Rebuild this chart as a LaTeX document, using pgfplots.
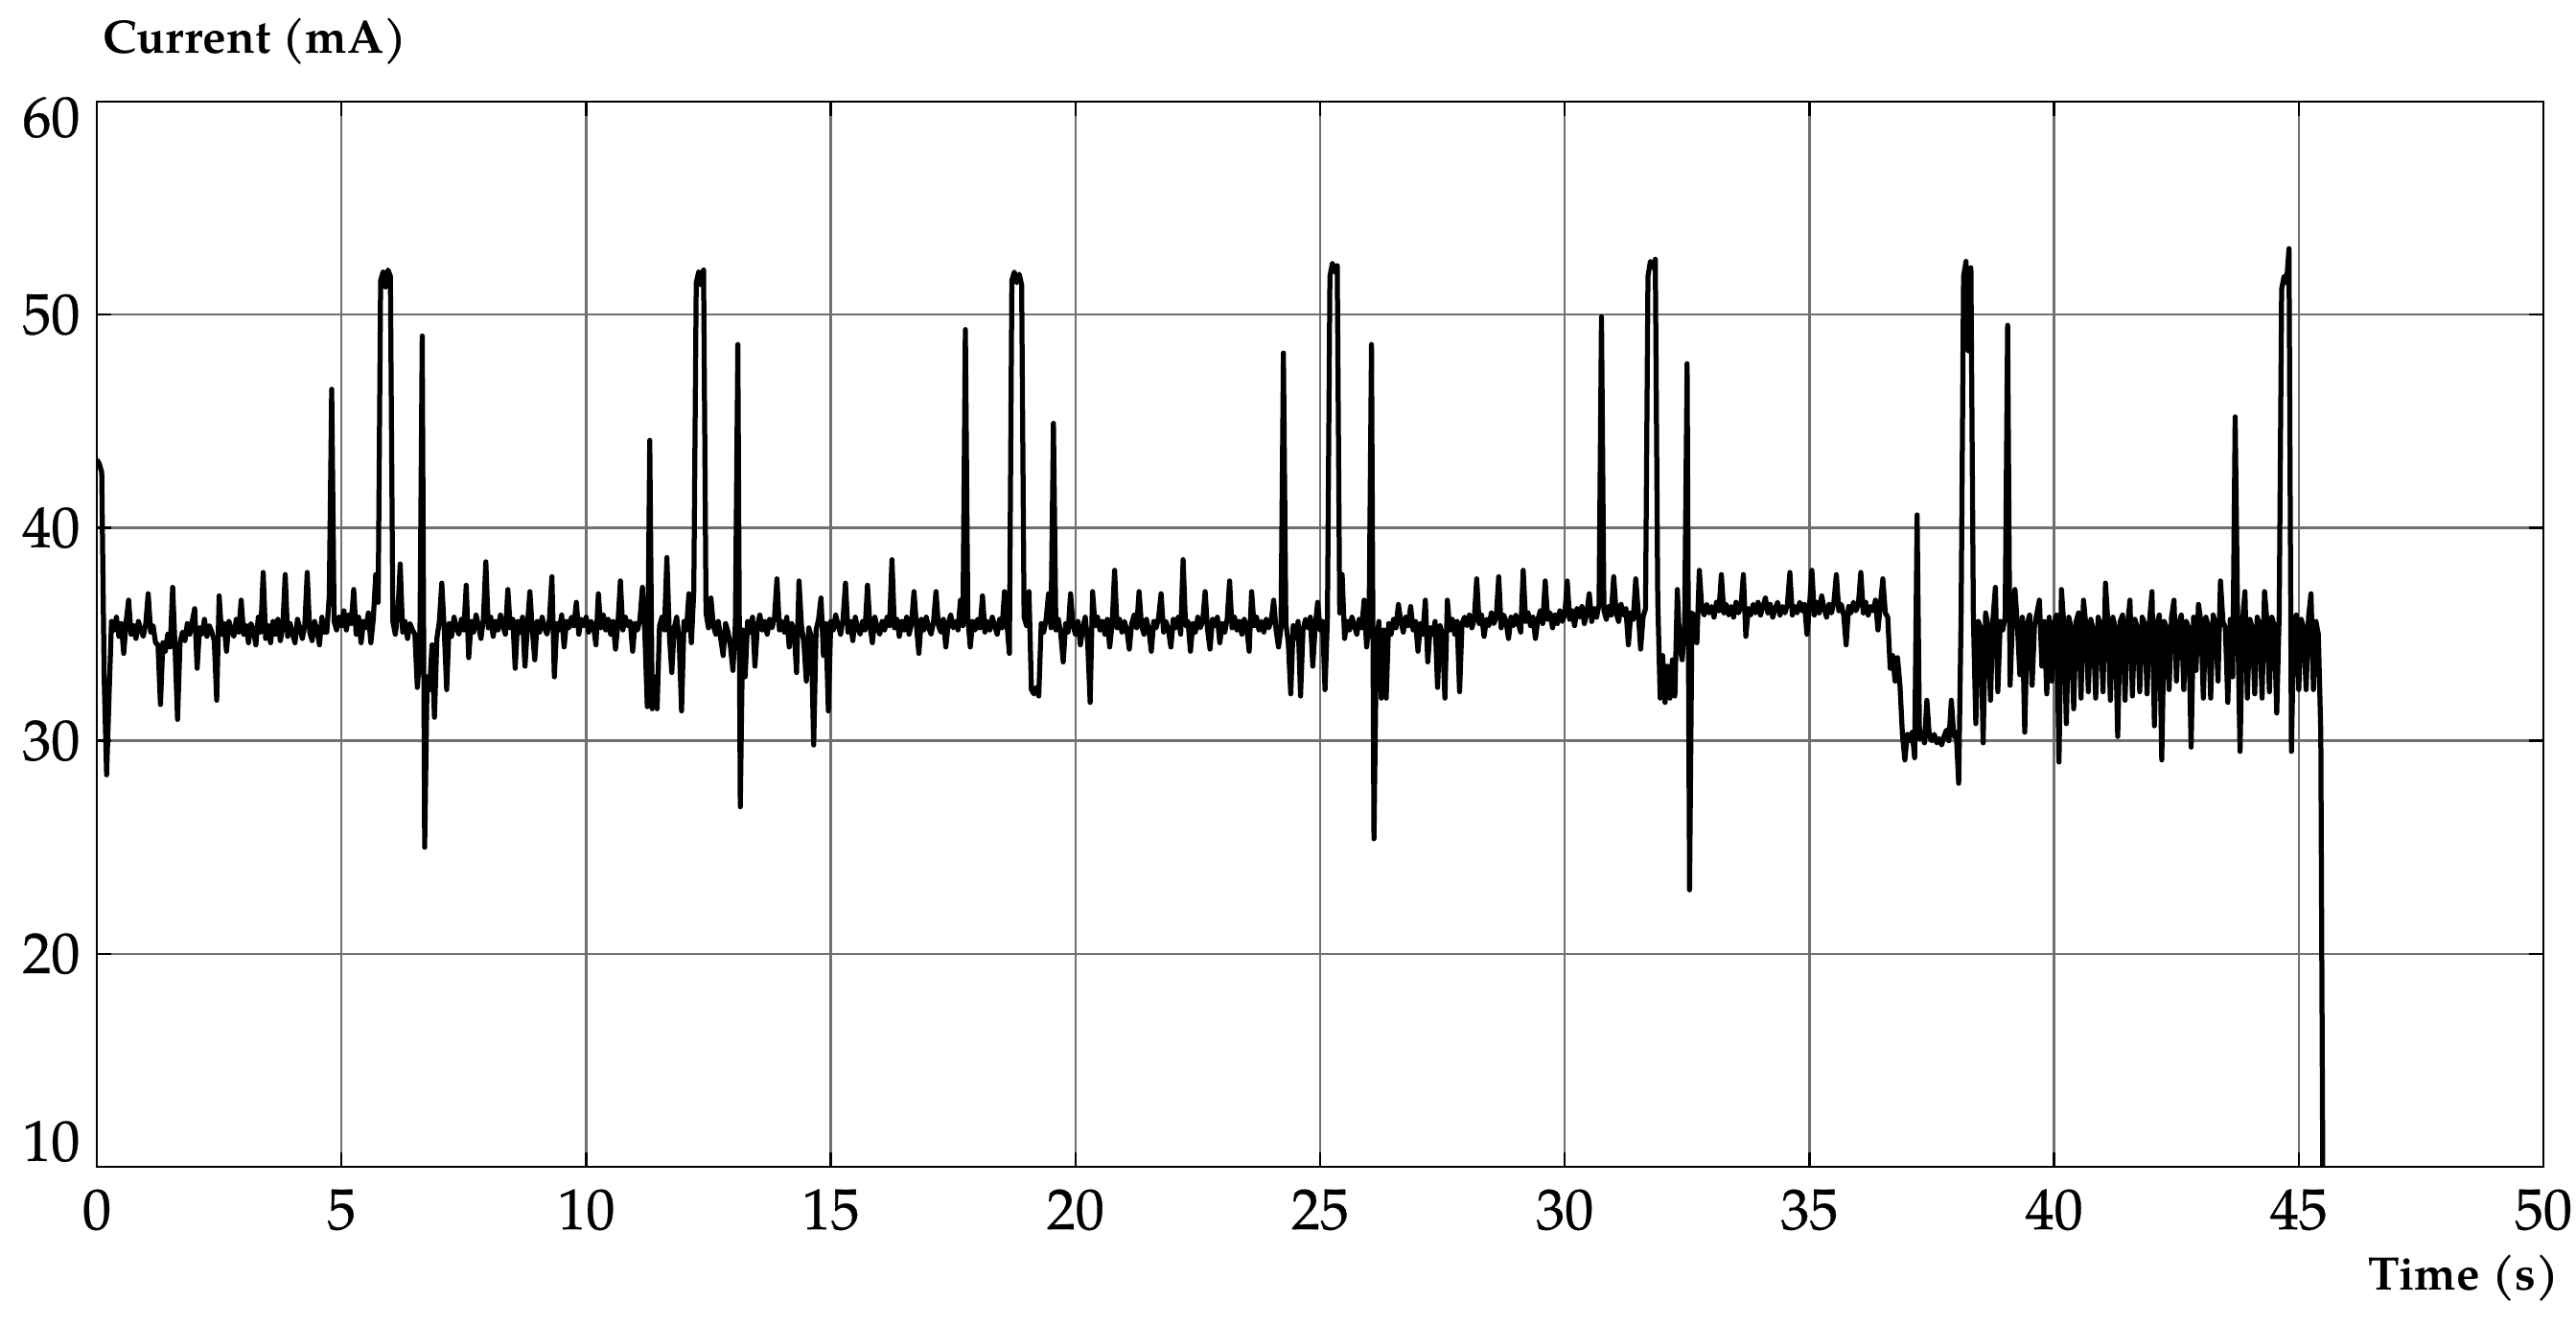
\documentclass[border=0pt]{standalone}
\usepackage{pgfplots}
\pgfplotsset{compat=1.18}
\usepackage{fontspec}
\setmainfont{TeX Gyre Pagella}
\newfontface\tickfont[FakeBold=0.5]{TeX Gyre Pagella}
\definecolor{gridc}{HTML}{707070}
\begin{document}
\begin{tikzpicture}
\path[use as bounding box] (0,0) rectangle (537.4pt,276.2pt);
\begin{axis}[
  at={(20.2pt,32.8pt)}, anchor=south west,
  scale only axis, width=510.4pt, height=222.2pt,
  xmin=0, xmax=50, ymin=10, ymax=60,
  xtick={0,5,...,50}, ytick={10,20,...,60},
  grid=major,
  major grid style={draw=gridc, line width=0.5pt},
  axis line style={black, line width=0.5pt},
  tick style={black, line width=0.5pt},
  tick align=inside, major tick length=3pt,
  /pgf/number format/assume math mode=true,
  ticklabel style={font=\tickfont\fontsize{12}{14}\selectfont},
  xticklabel style={anchor=base, yshift=-13pt},
  yticklabel={\ifcase\ticknum\raisebox{5.3pt}[\height][\depth]{\axisdefaultticklabel}\or\axisdefaultticklabel\or\axisdefaultticklabel\or\axisdefaultticklabel\or\axisdefaultticklabel\or\raisebox{-3.3pt}[\height][\depth]{\axisdefaultticklabel}\fi},
  every axis y label/.style={at={(rel axis cs:0,1)}, anchor=base west, inner sep=0pt, xshift=1pt, yshift=10.2pt, font=\bfseries\fontsize{9.8}{12}\selectfont},
  every axis x label/.style={at={(rel axis cs:1,0)}, anchor=base east, inner sep=0pt, xshift=3.4pt, yshift=-25.6pt, font=\bfseries\fontsize{9.8}{12}\selectfont},
  ylabel={Current (mA)},
  xlabel={Time (s)},
]
\addplot[black, line width=1.05pt, line join=round, no markers] table[x expr=\coordindex/20, y index=0, header=false, row sep=\\] {
43.2\\43.0\\42.6\\33.0\\28.4\\32.1\\35.6\\35.2\\35.8\\34.9\\35.5\\34.1\\35.6\\36.6\\35.0\\35.4\\34.8\\35.6\\35.2\\34.9\\
35.5\\36.9\\35.1\\35.4\\34.6\\34.5\\31.7\\34.6\\34.2\\35.0\\34.4\\37.2\\34.3\\31.0\\34.6\\35.1\\34.7\\35.5\\35.0\\35.6\\
36.2\\33.4\\35.3\\35.0\\35.7\\34.9\\35.4\\35.1\\34.7\\31.9\\36.8\\35.0\\35.5\\34.2\\35.6\\35.2\\34.9\\35.7\\35.1\\36.6\\
35.0\\35.4\\34.6\\35.5\\35.2\\34.5\\35.8\\35.1\\37.9\\34.8\\35.4\\34.6\\35.6\\35.0\\35.7\\34.7\\35.3\\37.8\\34.9\\35.5\\
35.0\\34.6\\35.7\\35.3\\34.8\\35.4\\37.9\\35.1\\34.7\\35.6\\35.2\\34.5\\35.8\\35.1\\35.1\\36.8\\46.5\\35.6\\35.2\\35.8\\
35.4\\36.1\\35.2\\35.9\\35.5\\37.1\\35.0\\35.8\\34.6\\35.6\\35.3\\36.0\\34.6\\35.7\\37.8\\36.5\\51.6\\52.0\\51.3\\52.1\\
51.8\\35.6\\35.0\\35.9\\38.3\\35.1\\35.6\\34.8\\35.5\\35.2\\35.0\\32.5\\34.0\\49.0\\25.0\\33.0\\32.4\\34.5\\31.1\\34.8\\
35.6\\37.4\\35.2\\32.4\\35.5\\34.9\\35.8\\35.3\\35.0\\35.7\\35.2\\37.3\\33.9\\35.6\\35.1\\35.9\\35.4\\34.8\\35.7\\38.4\\
35.3\\35.8\\34.9\\35.6\\35.2\\35.9\\35.4\\35.0\\37.1\\35.3\\35.7\\33.4\\35.6\\35.1\\35.8\\33.5\\35.4\\37.0\\35.2\\33.8\\
35.6\\35.1\\35.8\\35.3\\35.0\\35.7\\37.7\\33.0\\35.5\\35.2\\35.9\\34.4\\35.6\\35.3\\35.8\\35.4\\36.5\\35.0\\35.7\\35.4\\
35.8\\35.1\\35.6\\35.4\\34.5\\36.9\\35.3\\35.9\\35.2\\35.7\\35.0\\35.6\\34.3\\35.5\\37.5\\35.2\\35.8\\35.4\\35.6\\34.2\\
35.5\\35.2\\35.7\\37.2\\35.0\\31.6\\44.1\\31.5\\33.0\\31.5\\35.4\\35.8\\35.2\\38.6\\35.0\\33.2\\35.3\\35.8\\34.8\\31.4\\
35.6\\35.2\\36.9\\34.6\\37.0\\51.5\\52.0\\51.4\\52.1\\36.0\\35.3\\36.7\\35.4\\35.0\\35.6\\34.8\\34.0\\35.5\\35.1\\34.4\\
33.3\\35.5\\48.6\\26.9\\35.2\\33.0\\35.6\\35.1\\35.8\\33.5\\35.4\\35.9\\35.2\\35.6\\35.0\\35.7\\35.3\\35.8\\37.6\\35.2\\
35.6\\35.1\\35.8\\34.4\\35.5\\35.2\\33.2\\37.5\\35.4\\34.6\\32.8\\35.3\\34.9\\29.8\\35.2\\35.7\\36.7\\34.0\\35.5\\31.4\\
35.6\\35.2\\35.9\\35.4\\35.0\\35.7\\37.4\\35.1\\35.6\\34.7\\35.8\\35.3\\35.0\\35.6\\35.2\\37.3\\35.4\\34.6\\35.8\\35.3\\
35.0\\35.6\\35.2\\35.8\\35.4\\38.5\\35.3\\35.7\\34.9\\35.6\\35.2\\35.8\\35.0\\35.5\\37.0\\35.4\\34.1\\35.7\\35.2\\35.8\\
35.3\\35.0\\35.6\\37.0\\35.4\\35.1\\35.7\\34.4\\35.5\\35.9\\35.3\\35.6\\35.2\\36.6\\35.4\\49.3\\35.8\\34.4\\35.6\\35.2\\
35.7\\35.3\\36.8\\35.1\\35.6\\35.2\\35.8\\35.4\\35.0\\35.7\\35.3\\37.0\\35.5\\34.1\\51.6\\52.0\\51.5\\51.9\\51.4\\35.8\\
35.4\\37.0\\32.4\\32.2\\32.5\\32.1\\35.5\\35.1\\35.7\\36.9\\35.3\\44.9\\35.2\\35.7\\35.0\\33.7\\35.5\\35.1\\36.9\\35.4\\
35.0\\35.6\\34.5\\35.3\\35.8\\34.6\\31.8\\37.0\\35.4\\35.8\\35.2\\35.6\\35.0\\35.7\\34.4\\35.5\\38.0\\35.3\\35.7\\35.1\\
35.6\\35.2\\34.3\\35.5\\35.9\\35.3\\37.0\\35.4\\35.0\\35.7\\35.2\\34.2\\35.6\\35.3\\35.8\\36.9\\35.1\\35.6\\35.2\\34.4\\
35.7\\35.3\\35.8\\35.0\\38.5\\35.4\\35.6\\34.2\\35.5\\35.1\\35.8\\35.3\\35.6\\37.0\\35.2\\34.3\\35.7\\35.4\\35.8\\34.6\\
35.5\\35.1\\35.7\\37.5\\35.3\\35.8\\35.2\\35.6\\35.0\\35.7\\35.3\\34.2\\37.0\\35.4\\35.8\\35.2\\35.6\\35.1\\35.7\\35.3\\
35.6\\36.6\\35.2\\34.4\\35.3\\48.2\\35.5\\34.6\\32.2\\35.4\\34.8\\35.6\\32.1\\35.2\\35.7\\35.3\\35.8\\33.5\\35.4\\36.5\\
35.2\\35.6\\32.4\\35.8\\51.8\\52.4\\52.0\\52.3\\36.0\\37.8\\34.8\\35.6\\35.2\\35.8\\35.4\\35.0\\35.7\\35.3\\36.6\\34.4\\
35.5\\48.6\\25.4\\34.5\\35.6\\32.0\\35.2\\32.0\\35.5\\35.0\\35.7\\35.3\\36.4\\35.6\\35.1\\35.8\\35.4\\36.3\\35.2\\35.6\\
34.2\\35.5\\35.0\\36.6\\33.7\\35.3\\35.0\\35.6\\32.5\\35.4\\35.0\\32.0\\36.6\\35.2\\35.7\\35.0\\35.6\\32.3\\35.5\\35.8\\
35.4\\35.9\\35.3\\35.7\\37.6\\35.5\\35.9\\34.9\\35.7\\35.4\\36.0\\35.5\\35.8\\37.7\\35.3\\35.9\\35.6\\34.8\\35.8\\35.4\\
35.9\\35.5\\35.1\\38.0\\35.6\\36.0\\35.4\\35.8\\34.8\\35.7\\36.1\\35.5\\37.5\\35.7\\36.0\\35.3\\35.9\\35.5\\36.1\\35.6\\
35.9\\37.5\\35.7\\36.1\\35.4\\36.2\\35.8\\36.3\\35.5\\36.0\\36.9\\35.6\\36.2\\35.8\\36.4\\49.9\\36.1\\35.7\\36.3\\35.9\\
37.7\\36.0\\35.6\\36.4\\35.9\\36.2\\34.5\\36.0\\35.7\\37.6\\36.1\\34.3\\35.8\\36.2\\51.8\\52.5\\52.2\\52.6\\36.6\\32.0\\
34.0\\31.8\\33.5\\32.0\\33.8\\32.1\\37.1\\34.4\\33.8\\35.6\\47.7\\23.0\\36.0\\35.8\\34.6\\38.0\\36.2\\35.9\\36.4\\36.0\\
36.3\\35.8\\36.5\\36.1\\37.8\\36.0\\36.4\\35.9\\36.3\\35.8\\36.5\\36.0\\36.3\\37.8\\34.9\\36.2\\35.9\\36.4\\36.0\\36.5\\
35.9\\36.3\\36.7\\36.0\\36.4\\35.8\\36.2\\36.5\\35.9\\36.3\\36.0\\36.4\\37.9\\35.9\\36.3\\36.0\\36.5\\36.1\\36.4\\35.0\\
36.3\\38.0\\35.9\\36.5\\36.0\\36.8\\36.2\\35.8\\36.4\\36.0\\36.5\\37.8\\36.1\\36.4\\35.9\\34.5\\36.3\\36.0\\36.5\\36.1\\
36.4\\37.9\\36.0\\36.5\\35.9\\36.3\\36.1\\36.6\\35.2\\36.4\\37.6\\36.0\\35.8\\33.4\\34.0\\32.8\\33.9\\32.6\\30.3\\29.1\\
30.3\\30.0\\30.4\\29.2\\40.6\\30.1\\30.4\\29.9\\31.9\\30.2\\30.0\\30.3\\29.9\\30.1\\29.8\\30.2\\30.5\\30.0\\31.9\\30.2\\
30.4\\28.0\\36.0\\51.8\\52.5\\48.3\\52.2\\35.8\\30.8\\35.6\\35.3\\29.9\\36.0\\35.4\\31.9\\35.7\\37.2\\32.3\\35.6\\35.2\\
35.8\\49.5\\32.6\\35.7\\37.1\\35.4\\33.1\\35.8\\30.4\\35.5\\35.9\\32.6\\35.4\\36.0\\36.6\\33.5\\35.6\\32.2\\35.8\\32.8\\
35.5\\35.9\\29.0\\37.1\\35.4\\30.8\\35.8\\35.3\\31.5\\35.6\\36.0\\32.0\\36.6\\35.4\\32.3\\35.7\\35.2\\32.0\\35.8\\35.4\\
32.3\\37.4\\35.5\\31.9\\35.8\\35.3\\30.2\\35.6\\35.9\\31.9\\35.4\\36.6\\32.1\\35.7\\35.3\\32.3\\35.8\\35.5\\32.2\\35.6\\
37.0\\30.7\\35.5\\35.9\\29.1\\35.6\\35.3\\32.4\\35.8\\36.6\\32.8\\35.5\\35.9\\32.4\\35.6\\35.3\\29.7\\35.8\\33.3\\36.4\\
35.6\\32.0\\35.8\\35.4\\32.0\\35.9\\35.5\\32.8\\37.5\\35.6\\35.3\\31.8\\35.7\\33.0\\45.2\\35.8\\29.5\\35.6\\37.0\\32.0\\
35.7\\35.3\\32.2\\35.8\\35.5\\32.0\\37.0\\35.6\\32.3\\35.8\\35.4\\31.3\\35.9\\51.2\\51.8\\51.5\\53.1\\29.5\\35.6\\35.9\\
32.4\\35.7\\35.3\\32.4\\35.8\\36.9\\32.4\\35.6\\35.0\\30.4\\5.0\\
};
\end{axis}
\end{tikzpicture}
\end{document}
